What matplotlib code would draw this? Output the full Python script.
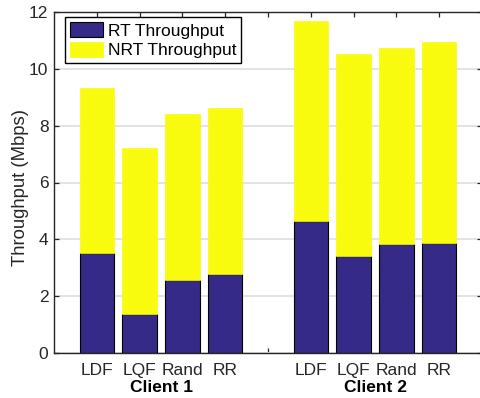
import matplotlib.pyplot as plt
import numpy as np

plt.rcParams['font.family'] = ['Liberation Sans', 'DejaVu Sans']

schemes = ['LDF', 'LQF', 'Rand', 'RR']
clients = ['Client 1', 'Client 2']
# throughput in Mbps, one row per client
rt_tput = [[3.51, 1.36, 2.57, 2.78],
           [4.66, 3.41, 3.82, 3.88]]
total_tput = [[9.33, 7.22, 8.40, 8.63],
              [11.69, 10.51, 10.75, 10.95]]

rt_color = '#352a87'
nrt_color = '#f9fb0e'
fs = 12.5

fig = plt.figure(figsize=(4.8, 3.98), dpi=100)
ax = fig.add_axes([54 / 480, 45 / 398, 428 / 480, 341 / 398])

pos = []
for g in range(len(clients)):
    pos += [g * (len(schemes) + 1) + i + 1 for i in range(len(schemes))]
pos = np.array(pos)
rt = np.concatenate(rt_tput)
nrt = np.concatenate(total_tput) - rt

ax.bar(pos, rt, width=0.8, color=rt_color, edgecolor='black', linewidth=0.8,
       label='RT Throughput', zorder=3)
ax.bar(pos, nrt, bottom=rt, width=0.8, color=nrt_color, edgecolor=nrt_color,
       linewidth=0.5, label='NRT Throughput', zorder=3)

ax.set_xlim(0, 10)
ax.set_ylim(0, 12)
ax.set_yticks(range(0, 13, 2))
ticks = list(range(1, 10))
labels = schemes + [''] + schemes
ax.set_xticks(ticks)
ax.set_xticklabels(labels)
ax.tick_params(direction='in', top=True, right=True, length=3.5, width=0.9,
               labelsize=fs, colors='#262626', pad=4)
ax.tick_params(axis='x', pad=7)
ax.yaxis.grid(True, color='#e3e3e3', linewidth=1.4, zorder=0)
ax.set_axisbelow(True)
for s in ax.spines.values():
    s.set_linewidth(1.0)
    s.set_color('#262626')
    s.set_zorder(4)

for g, name in enumerate(clients):
    xc = g * (len(schemes) + 1) + (len(schemes) + 1) / 2
    ax.text(xc, -0.08, name, transform=ax.get_xaxis_transform(),
            ha='center', va='top', fontsize=fs, fontweight='bold', color='black')

ax.set_ylabel('Throughput (Mbps)', fontsize=13.3, color='#262626', labelpad=0)
ax.yaxis.label.set_y(0.484)

leg = ax.legend(loc='upper left', bbox_to_anchor=(11 / 428, 1 - 5 / 341),
                borderaxespad=0, fontsize=fs, fancybox=False, framealpha=1,
                handlelength=1.9, handleheight=0.92, handletextpad=0.25,
                labelspacing=0.2, borderpad=0.3)
leg.get_frame().set_edgecolor('black')
leg.get_frame().set_linewidth(1.0)
leg.set_zorder(5)

fig.savefig('out.png', dpi=100)
